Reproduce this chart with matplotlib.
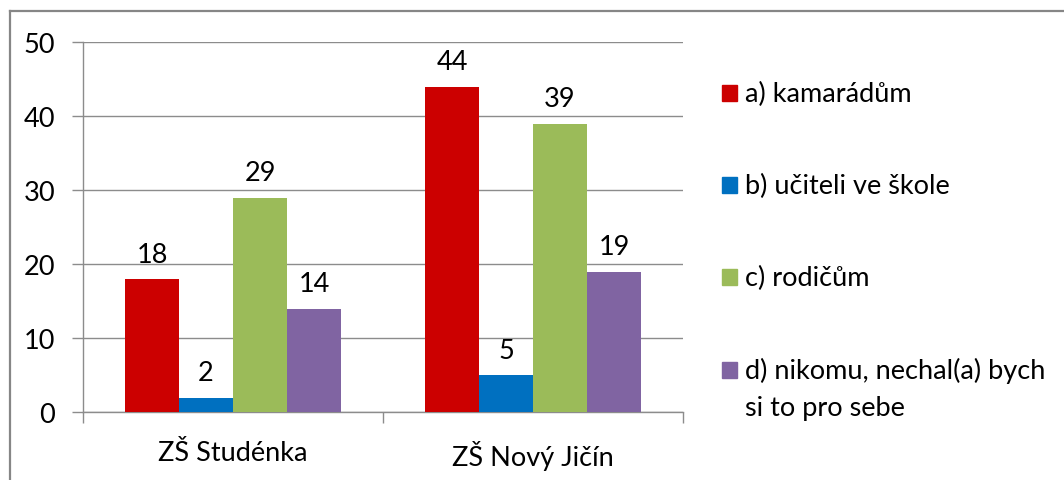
import matplotlib
matplotlib.use("Agg")
import matplotlib.pyplot as plt
import numpy as np
from matplotlib.lines import Line2D
from matplotlib.patches import Rectangle

categories = ["ZŠ Studénka", "ZŠ Nový Jičín"]
series_labels = ["a) kamarádům", "b) učiteli ve škole", "c) rodičům",
                 "d) nikomu, nechal(a) bych\nsi to pro sebe"]
values = [
    [18, 44],
    [2, 5],
    [29, 39],
    [14, 19],
]
colors = ["#CC0000", "#0070C0", "#9BBB59", "#8064A2"]
yticks = [0, 10, 20, 30, 40, 50]

plt.rcParams['font.family'] = ['Lato', 'DejaVu Sans']
FS = 19.5

W, H = 1064, 481
fig = plt.figure(figsize=(W / 100, H / 100), dpi=100)
ax = fig.add_axes([83 / W, 1 - 413.3 / H, 600 / W, (413.3 - 43.3) / H])

x = np.arange(len(categories))
bw = 0.18
for i, (vals, c) in enumerate(zip(values, colors)):
    pos = x + (i - 1.5) * bw
    ax.bar(pos, vals, width=bw, color=c, zorder=3)
    for p, v in zip(pos, vals):
        ax.annotate(str(v), (p, v), xytext=(0, 9), textcoords="offset points",
                    ha="center", va="bottom", fontsize=FS, color="black")

ax.set_xlim(-0.5, len(categories) - 0.5)
ax.set_ylim(0, 50)
ax.set_yticks(yticks)
ax.set_yticklabels([str(t) for t in yticks])
ax.yaxis.grid(True, color="#8c8c8c", linewidth=1.0, zorder=0)
ax.set_axisbelow(True)

ax.set_xticks(x)
ax.set_xticklabels(categories)
ax.set_xticks(np.arange(len(categories) + 1) - 0.5, minor=True)
ax.tick_params(axis="x", which="major", length=0, pad=20, labelsize=FS)
ax.tick_params(axis="x", which="minor", length=8, width=1, color="#8c8c8c", direction="out")
ax.tick_params(axis="y", length=8, width=1, color="#8c8c8c", pad=12, labelsize=FS)

for s in ["top", "right"]:
    ax.spines[s].set_visible(False)
for s in ["left", "bottom"]:
    ax.spines[s].set_color("#8c8c8c")
    ax.spines[s].set_linewidth(1.0)

# legend drawn manually
base_y = 101.7
step = 92.3
line_gap = 37.4
for i, (lab, c) in enumerate(zip(series_labels, colors)):
    yb = base_y + i * step
    fig.patches.append(Rectangle((721.7 / W, 1 - yb / H), 15.5 / W, 16 / H,
                                 transform=fig.transFigure, color=c))
    for j, line in enumerate(lab.split("\n")):
        fig.text(745 / W, 1 - (yb + j * line_gap) / H, line, fontsize=FS,
                 ha="left", va="baseline")

# outer frame (top and left)
fig.add_artist(Line2D([10 / W, 1.0], [1 - 12 / H, 1 - 12 / H], color="#868686",
                      linewidth=1.6, transform=fig.transFigure))
fig.add_artist(Line2D([10 / W, 10 / W], [1 - 12 / H, 0], color="#868686",
                      linewidth=1.6, transform=fig.transFigure))

fig.savefig("out.png", dpi=100, facecolor="white")
